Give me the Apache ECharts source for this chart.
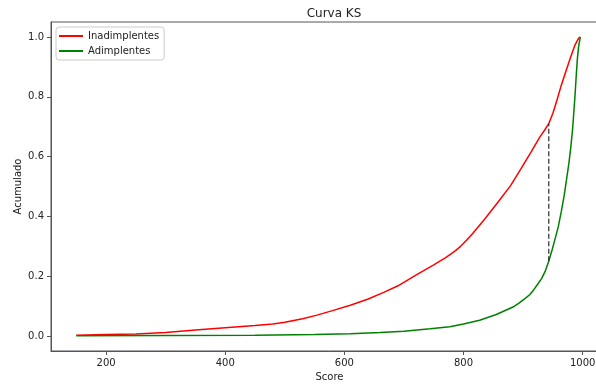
<!DOCTYPE html>
<html>
<head>
<meta charset="utf-8">
<script src="https://cdn.jsdelivr.net/npm/echarts@6/dist/echarts.min.js"></script>
<style>
  html, body { margin: 0; padding: 0; background: #fff; overflow: hidden; }
  /* the plot area runs past the right edge of the window */
  #chart { width: 620px; height: 387px; }
</style>
</head>
<body>
<div id="chart"></div>
<script>
// Cumulative share of defaulters (Inadimplentes) by score
const badScores = [150, 200, 250, 300, 350, 400, 450, 480, 500, 530, 554, 580, 610, 640, 666, 690, 720, 750, 770, 785, 795, 805, 815, 836, 858, 879, 896, 913, 928, 936, 943, 950, 957, 964, 971, 979, 987, 993, 996];
const badCum = [0.003, 0.005, 0.007, 0.012, 0.020, 0.028, 0.035, 0.040, 0.046, 0.058, 0.070, 0.085, 0.103, 0.124, 0.146, 0.168, 0.204, 0.238, 0.262, 0.283, 0.300, 0.320, 0.342, 0.392, 0.448, 0.503, 0.558, 0.614, 0.665, 0.688, 0.710, 0.745, 0.790, 0.838, 0.880, 0.928, 0.973, 0.995, 1.000];

// Cumulative share of non-defaulters (Adimplentes) by score
const goodScores = [150, 300, 450, 550, 610, 660, 700, 744, 777, 800, 827, 855, 883, 893, 903, 911, 918, 925, 931, 937, 943, 949, 955, 959, 964, 969, 973, 977, 980, 983, 985, 987, 989, 991, 993, 996];
const goodCum = [0.001, 0.002, 0.003, 0.005, 0.008, 0.012, 0.016, 0.024, 0.031, 0.040, 0.053, 0.072, 0.097, 0.110, 0.125, 0.138, 0.155, 0.175, 0.192, 0.216, 0.250, 0.290, 0.335, 0.365, 0.415, 0.470, 0.525, 0.580, 0.630, 0.690, 0.745, 0.800, 0.865, 0.925, 0.965, 1.000];

// Maximum separation (KS statistic) between the two curves
const ksScore = 943;
const ksLow = 0.250;
const ksHigh = 0.710;

const xTicks = [200, 400, 600, 800, 1000];
const yTicks = [0.0, 0.2, 0.4, 0.6, 0.8, 1.0];

const pairs = (xs, ys) => xs.map((x, i) => [x, ys[i]]);

const font = 'DejaVu Sans';
const textColor = '#222';
const spine = '#555';

const chart = echarts.init(document.getElementById('chart'), null, { renderer: 'canvas' });
chart.setOption({
  animation: false,
  backgroundColor: '#fff',
  title: {
    text: 'Curva KS',
    left: 329,
    top: 3,
    textAlign: 'center',
    textStyle: { fontFamily: font, fontSize: 12, fontWeight: 'normal', color: textColor }
  },
  legend: {
    orient: 'vertical',
    left: 56,
    top: 27,
    padding: [4, 5, 4, 3],
    itemGap: 5,
    itemWidth: 24,
    itemHeight: 2,
    icon: 'rect',
    backgroundColor: 'rgba(255,255,255,0.8)',
    borderColor: '#ccc',
    borderWidth: 1,
    borderRadius: 3,
    textStyle: { fontFamily: font, fontSize: 10, color: textColor },
    data: ['Inadimplentes', 'Adimplentes']
  },
  grid: {
    left: 51,
    top: 22,
    width: 557,
    height: 331,
    show: true,
    borderColor: spine,
    borderWidth: 1,
    containLabel: false
  },
  xAxis: {
    type: 'value',
    min: 107.5,
    max: 1042.5,
    name: 'Score',
    nameLocation: 'middle',
    nameGap: 21,
    nameMoveOverlap: false,
    nameTextStyle: { fontFamily: font, fontSize: 10, color: textColor },
    axisLine: { show: true, onZero: false, lineStyle: { color: spine, width: 1 } },
    axisTick: { show: true, length: 4, customValues: xTicks, lineStyle: { color: spine } },
    axisLabel: {
      customValues: xTicks,
      margin: 7,
      fontFamily: font,
      fontSize: 10,
      color: textColor,
      formatter: v => String(v)
    },
    splitLine: { show: false }
  },
  yAxis: {
    type: 'value',
    min: -0.05,
    max: 1.05,
    name: 'Acumulado',
    nameLocation: 'middle',
    nameGap: 28,
    nameRotate: 90,
    nameMoveOverlap: false,
    nameTextStyle: { fontFamily: font, fontSize: 10, color: textColor },
    axisLine: { show: true, onZero: false, lineStyle: { color: spine, width: 1 } },
    axisTick: { show: true, length: 4, customValues: yTicks, lineStyle: { color: spine } },
    axisLabel: {
      customValues: yTicks,
      margin: 7,
      fontFamily: font,
      fontSize: 10,
      color: textColor,
      formatter: v => v.toFixed(1)
    },
    splitLine: { show: false }
  },
  series: [
    {
      name: 'Inadimplentes',
      type: 'line',
      data: pairs(badScores, badCum),
      showSymbol: false,
      symbol: 'none',
      color: '#ff0000',
      lineStyle: { color: '#ff0000', width: 1.5 }
    },
    {
      name: 'Adimplentes',
      type: 'line',
      data: pairs(goodScores, goodCum),
      showSymbol: false,
      symbol: 'none',
      color: '#008000',
      lineStyle: { color: '#008000', width: 1.5 }
    },
    {
      name: 'KS',
      type: 'line',
      data: [[ksScore, ksLow], [ksScore, ksHigh]],
      showSymbol: false,
      symbol: 'none',
      z: 5,
      lineStyle: { color: '#333', width: 1.5, type: [5, 2.5], opacity: 0.85 }
    }
  ]
});
</script>
</body>
</html>
